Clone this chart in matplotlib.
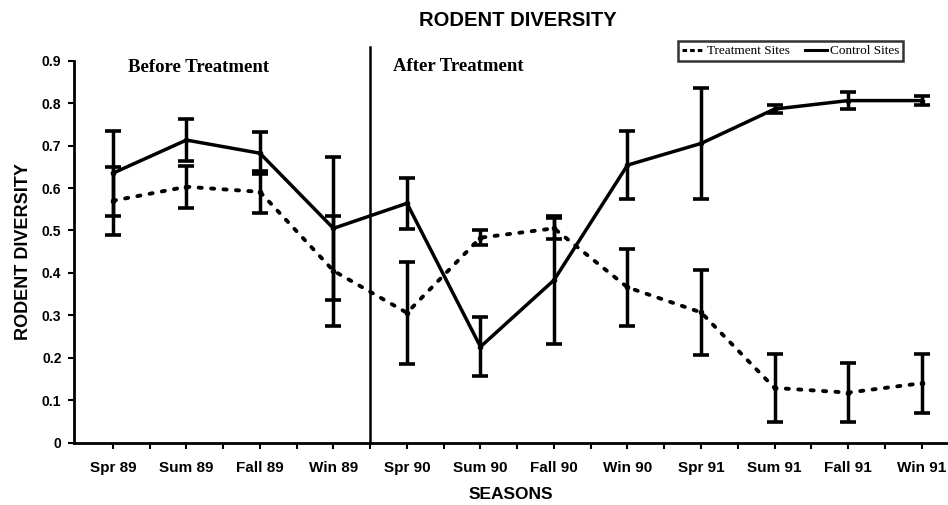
import matplotlib.pyplot as plt
from matplotlib.lines import Line2D
import numpy as np

seasons = ["Spr 89", "Sum 89", "Fall 89", "Win 89", "Spr 90", "Sum 90",
           "Fall 90", "Win 90", "Spr 91", "Sum 91", "Fall 91", "Win 91"]
control = [0.635, 0.713, 0.682, 0.505, 0.564, 0.226, 0.383, 0.654, 0.705, 0.786, 0.806, 0.806]
control_err = [0.10, 0.05, 0.05, 0.168, 0.06, 0.07, 0.15, 0.08, 0.13, 0.01, 0.02, 0.01]
treatment = [0.570, 0.603, 0.591, 0.405, 0.306, 0.483, 0.505, 0.366, 0.307, 0.129, 0.118, 0.140]
treatment_err = [0.08, 0.05, 0.05, 0.13, 0.12, 0.018, 0.025, 0.09, 0.10, 0.08, 0.07, 0.07]

SANS = ["Liberation Sans", "DejaVu Sans"]
SERIF = ["Liberation Serif", "DejaVu Serif"]

fig = plt.figure(figsize=(9.48, 5.05), dpi=100)
ax = fig.add_axes([0.078, 0.1234, 0.922, 0.7564])

x = np.arange(len(seasons))

dotted = (0, (0.8, 2.4))
ax.plot(x, treatment, color="black", linestyle=dotted, linewidth=2.8,
        dash_capstyle="round", marker="o", markersize=3)
ax.plot(x, control, color="black", linestyle="-", linewidth=2.5, marker="o", markersize=3)
ax.errorbar(x, treatment, yerr=treatment_err, fmt="none", ecolor="black",
            elinewidth=2.5, capsize=5.5, capthick=2.6)
ax.errorbar(x, control, yerr=control_err, fmt="none", ecolor="black",
            elinewidth=2.5, capsize=5.5, capthick=2.6)

ax.axvline(3.5, ymin=0, ymax=1.037, color="black", linewidth=1.8, clip_on=False)

ax.set_xlim(-0.53, 11.36)
ax.set_ylim(0, 0.9)
ax.set_yticks(np.arange(0, 0.91, 0.1))
ax.set_yticklabels(["0"] + [f"{v:.1f}" for v in np.arange(0.1, 0.91, 0.1)])
ax.set_xticks(x)
ax.set_xticklabels(seasons)
ax.set_xticks(x[:-1] + 0.5, minor=True)

for side in ["top", "right"]:
    ax.spines[side].set_visible(False)
for side in ["left", "bottom"]:
    ax.spines[side].set_linewidth(2)

ax.tick_params(axis="both", which="both", direction="out", length=4, width=1.5, color="black")
ax.tick_params(axis="x", pad=9)
ax.tick_params(axis="y", pad=5)
for lab in ax.get_xticklabels():
    lab.set_family(SANS)
    lab.set_fontweight("bold")
    lab.set_fontsize(11)
for lab in ax.get_yticklabels():
    lab.set_family(SANS)
    lab.set_fontweight("bold")
    lab.set_fontsize(10)

ax.set_xlabel("SEASONS", family=SANS, fontweight="bold", fontsize=12.5, labelpad=9)
ax.set_ylabel("RODENT DIVERSITY", family=SANS, fontweight="bold", fontsize=13, labelpad=7)

fig.text(0.546, 0.96, "RODENT DIVERSITY", family=SANS, fontweight="bold", fontsize=14.5,
         ha="center", va="center")

ax.text(1.17, 0.883, "Before Treatment", family=SERIF, fontweight="bold", fontsize=13.5,
        ha="center", va="center")
ax.text(4.70, 0.887, "After Treatment", family=SERIF, fontweight="bold", fontsize=13.5,
        ha="center", va="center")

handles = [Line2D([], [], color="black", linestyle=(0, (1.5, 1)), linewidth=2.2),
           Line2D([], [], color="black", linestyle="-", linewidth=2.2)]
leg = ax.legend(handles, ["Treatment Sites", "Control Sites"],
                loc="upper right", bbox_to_anchor=(903 / 948, 1 - 41 / 505),
                bbox_transform=fig.transFigure, ncol=2, frameon=True, fancybox=False,
                prop={"family": SERIF, "size": 9.5},
                handlelength=1.7, handletextpad=0.2, columnspacing=1.1,
                borderpad=0.3, borderaxespad=0)
leg.get_frame().set_edgecolor("black")
leg.get_frame().set_linewidth(1.8)

fig.savefig("out.png", dpi=100)
